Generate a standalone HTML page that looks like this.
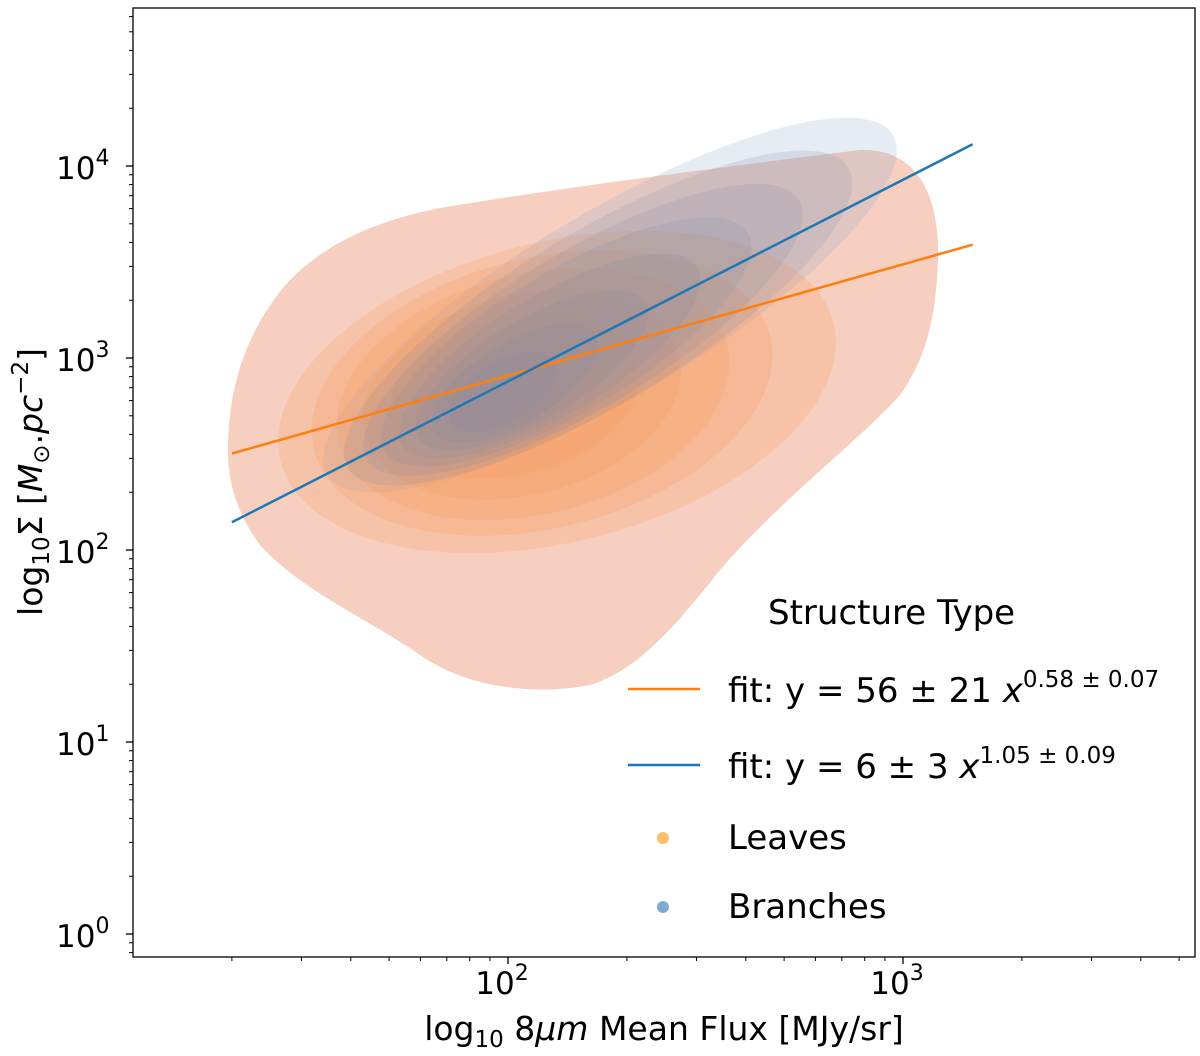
<!DOCTYPE html>
<html><head><meta charset="utf-8"><style>
body{margin:0;background:#fff}
svg{display:block;font-family:"DejaVu Sans","Liberation Sans",sans-serif}
</style></head><body>
<svg id="c" width="1200" height="1056">
<g id="kde">
<path fill="#f6cfc0" d="M228,450 C228,390 245,330 290,280 C330,240 380,220 440,208 C560,188 700,170 860,150 C920,148 940,200 938,260 C936,320 925,360 900,395 C860,440 780,500 720,570 C680,620 640,670 590,685 C540,695 470,690 420,655 C370,620 300,590 260,545 C238,515 228,485 228,450 Z"/>
<g id="blue" fill="#8fa7cc" fill-opacity="0.22"></g>
<g id="orange" fill="#f69a5c" fill-opacity="0.24"></g>
<g id="blue2" fill="#7f8aa8" fill-opacity="0.18"></g>
</g>
<g id="lines"></g>
<rect x="133" y="8" width="1062" height="949" fill="none" stroke="#000" stroke-width="1.3"/>
<g id="ticks"></g>
<text x="664" y="1040" font-size="33" text-anchor="middle">log<tspan font-size="23" dy="7">10</tspan><tspan dy="-7"> 8</tspan><tspan font-style="italic">μm</tspan> Mean Flux [MJy/sr]</text>
<text transform="translate(42,482) rotate(-90)" font-size="33" text-anchor="middle">log<tspan font-size="23" dy="7">10</tspan><tspan dy="-7">Σ  [</tspan><tspan font-style="italic">M</tspan><tspan font-size="23" dy="7">⊙</tspan><tspan dy="-7">.</tspan><tspan font-style="italic">pc</tspan><tspan font-size="23" dy="-14">−2</tspan><tspan dy="14">]</tspan></text>
<g font-size="34">
<text x="768" y="624">Structure Type</text>
<line x1="628" y1="689" x2="700" y2="689" stroke="#ff7f0e" stroke-width="2.5"/>
<text x="728" y="702">fit: y = 56 ± 21 <tspan font-style="italic">x</tspan><tspan font-size="23" dy="-15">0.58 ± 0.07</tspan></text>
<line x1="628" y1="765" x2="700" y2="765" stroke="#1f77b4" stroke-width="2.5"/>
<text x="728" y="778">fit: y = 6 ± 3 <tspan font-style="italic">x</tspan><tspan font-size="23" dy="-15">1.05 ± 0.09</tspan></text>
<circle cx="663" cy="838" r="6" fill="#fcc06a"/>
<text x="728" y="849">Leaves</text>
<circle cx="663" cy="907" r="6" fill="#7eaad4"/>
<text x="728" y="918">Branches</text>
</g>
</svg>
<script>
const xMajorTicks=[100,1000];
const xMajorLabels=["10","10"];
const xMajorExp=["2","3"];
const yMajorTicks=[1,10,100,1000,10000];
const yMajorExp=["0","1","2","3","4"];
const fitX=[20,1500];
const orangeFit=[56,0.58];
const blueFit=[6,1.05];
const orangeLevels=[[557,392,285,150],[542,393,235,135],[533,394,200,120],[522,395,162,100],[514,395,128,80],[508,393,94,60],[505,392,60,38]];
const blueLevels=[[610,305,330,92],[598,318,292,86],[583,330,252,78],[566,342,212,70],[550,356,172,60],[532,370,132,50],[515,383,94,40],[503,392,60,30]];
const X0=Math.log10(100),XPX0=508,XD=395;
const Y0=Math.log10(1000),YPX0=358,YD=192;
function xs(v){return XPX0+(Math.log10(v)-X0)*XD;}
function ys(v){return YPX0-(Math.log10(v)-Y0)*YD;}
const NS="http://www.w3.org/2000/svg";
function mk(t,a,p){const e=document.createElementNS(NS,t);for(const k in a)e.setAttribute(k,a[k]);p.appendChild(e);return e;}
const og=document.getElementById('orange');
orangeLevels.forEach(l=>{
const e=mk('ellipse',{cx:l[0],cy:l[1],rx:l[2],ry:l[3],transform:`rotate(-14 ${l[0]} ${l[1]})`},og);

});
const bg=document.getElementById('blue');
const bg2=document.getElementById('blue2');
blueLevels.forEach((l,i)=>{
const e=mk('ellipse',{cx:l[0],cy:l[1],rx:l[2],ry:l[3],transform:`rotate(-31 ${l[0]} ${l[1]})`},i===0?bg:bg2);

});
const lg=document.getElementById('lines');
[[orangeFit,'#ff7f0e','orange-fit-line'],[blueFit,'#1f77b4','blue-fit-line']].forEach(f=>{
const p=fitX.map(x=>xs(x).toFixed(1)+','+ys(f[0][0]*Math.pow(x,f[0][1])).toFixed(1));
const e=mk('polyline',{points:p.join(' '),fill:'none',stroke:f[1],'stroke-width':2.5},lg);

});
const tg=document.getElementById('ticks');
for(let d=10;d<=10000;d*=10)for(let m=1;m<10;m++){const v=d*m;const px=xs(v);if(px<133||px>1195)continue;
const maj=m===1;const e=mk('line',{x1:px,x2:px,y1:957,y2:957+(maj?7:4),stroke:'#000','stroke-width':maj?1.3:1},tg);

}
for(let d=0.1;d<=100000;d*=10)for(let m=1;m<10;m++){const v=d*m;const py=ys(v);if(py<8||py>957)continue;
const maj=m===1;const e=mk('line',{x1:133,x2:133-(maj?7:4),y1:py,y2:py,stroke:'#000','stroke-width':maj?1.3:1},tg);

}
xMajorTicks.forEach((v,i)=>{const t=mk('text',{x:xs(v)-6,y:994,'font-size':31,'text-anchor':'middle'},tg);
t.innerHTML=xMajorLabels[i]+'<tspan font-size="22" dy="-14">'+xMajorExp[i]+'</tspan>';

});
yMajorTicks.forEach((v,i)=>{const t=mk('text',{x:56,y:ys(v)+13,'font-size':31},tg);
t.innerHTML='10<tspan font-size="22" dy="-14">'+yMajorExp[i]+'</tspan>';

});
</script>
</body></html>
